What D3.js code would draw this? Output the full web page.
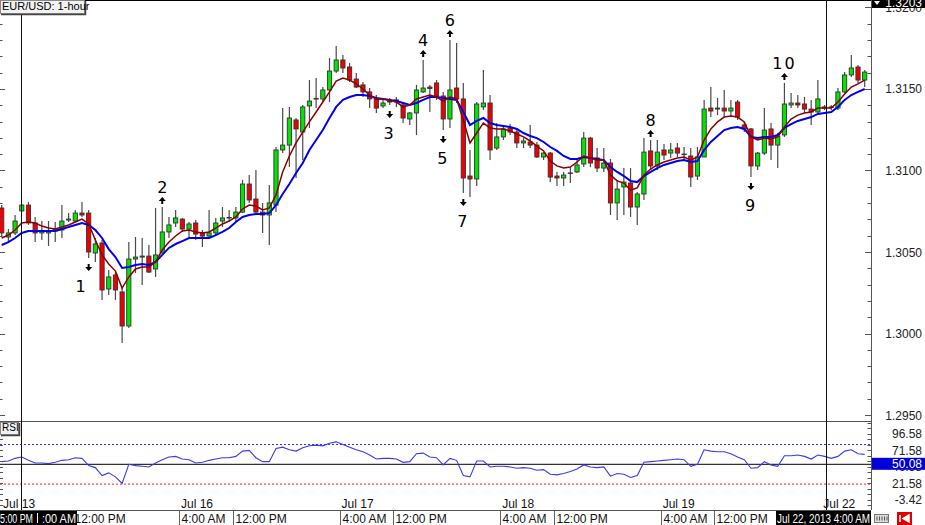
<!DOCTYPE html>
<html><head><meta charset="utf-8">
<script src="https://cdn.jsdelivr.net/npm/d3@7"></script>
<style>
html,body{margin:0;padding:0;background:#fff;}
svg{display:block;}
text{font-family:"Liberation Sans",Arial,sans-serif;}
</style></head><body>
<svg id="c" width="925" height="525"></svg>
<script>
// ---------- data (EUR/USD 1-hour) ----------
const opens = [1.30770,1.30592,1.30617,1.30752,1.30788,1.30678,1.30617,1.30617,1.30629,1.30635,
1.30696,1.30690,1.30739,1.30739,1.30494,1.30555,1.30273,1.30359,1.30255,1.30046,
1.30457,1.30469,1.30475,1.30396,1.30494,1.30623,1.30678,1.30702,1.30641,1.30678,
1.30617,1.30598,1.30617,1.30690,1.30709,1.30709,1.30745,1.30917,1.30825,1.30745,
1.30727,1.30788,1.31126,1.31156,1.31310,1.31236,1.31396,1.31439,1.31439,1.31494,
1.31610,1.31678,1.31635,1.31561,1.31525,1.31482,1.31439,1.31396,1.31426,1.31433,
1.31402,1.31316,1.31353,1.31482,1.31512,1.31537,1.31457,1.31316,1.31506,1.31439,
1.30966,1.30948,1.31390,1.31414,1.31138,1.31206,1.31261,1.31236,1.31169,1.31175,
1.31156,1.31083,1.31107,1.30966,1.30954,1.30985,1.30991,1.31040,1.31199,1.31077,
1.31015,1.31046,1.30801,1.30899,1.30923,1.30776,1.30856,1.31120,1.31028,1.31126,
1.31107,1.31138,1.31101,1.31089,1.30966,1.31083,1.31383,1.31377,1.31383,1.31365,
1.31420,1.31279,1.31255,1.31028,1.31107,1.31255,1.31156,1.31218,1.31402,1.31414,
1.31408,1.31377,1.31359,1.31383,1.31390,1.31383,1.31482,1.31586,1.31635,1.31555];
const highs = [1.30788,1.30641,1.30727,1.30794,1.30807,1.30715,1.30690,1.30690,1.30684,1.30788,
1.30739,1.30758,1.30807,1.30758,1.30586,1.30574,1.30390,1.30377,1.30291,1.30561,
1.30592,1.30586,1.30543,1.30770,1.30776,1.30715,1.30758,1.30709,1.30684,1.30696,
1.30635,1.30758,1.30709,1.30776,1.30758,1.30776,1.30942,1.30972,1.31003,1.30801,
1.30911,1.31144,1.31383,1.31390,1.31322,1.31402,1.31555,1.31567,1.31512,1.31690,
1.31764,1.31709,1.31660,1.31598,1.31543,1.31506,1.31463,1.31433,1.31445,1.31451,
1.31420,1.31359,1.31525,1.31678,1.31525,1.31555,1.31482,1.31801,1.31782,1.31537,
1.31126,1.31420,1.31617,1.31463,1.31291,1.31267,1.31285,1.31261,1.31199,1.31279,
1.31175,1.31113,1.31113,1.30991,1.30991,1.31021,1.31077,1.31236,1.31206,1.31138,
1.31138,1.31071,1.30942,1.31015,1.31015,1.30868,1.31199,1.31187,1.31187,1.31163,
1.31169,1.31169,1.31144,1.31138,1.31144,1.31433,1.31512,1.31445,1.31494,1.31433,
1.31433,1.31298,1.31261,1.31113,1.31383,1.31291,1.31230,1.31537,1.31475,1.31463,
1.31451,1.31433,1.31555,1.31402,1.31402,1.31506,1.31604,1.31709,1.31647,1.31617];
const lows = [1.30598,1.30561,1.30604,1.30745,1.30666,1.30561,1.30574,1.30537,1.30561,1.30586,
1.30684,1.30684,1.30715,1.30463,1.30439,1.30206,1.30236,1.30206,1.29942,1.30034,
1.30371,1.30298,1.30371,1.30347,1.30494,1.30586,1.30653,1.30623,1.30592,1.30574,
1.30531,1.30586,1.30604,1.30653,1.30684,1.30684,1.30739,1.30801,1.30739,1.30617,
1.30543,1.30745,1.31107,1.31021,1.30954,1.31064,1.31261,1.31383,1.31420,1.31420,
1.31598,1.31598,1.31543,1.31506,1.31451,1.31383,1.31353,1.31383,1.31402,1.31390,
1.31291,1.31279,1.31218,1.31475,1.31359,1.31433,1.31248,1.31261,1.31414,1.30862,
1.30837,1.30905,1.31371,1.31064,1.31126,1.31187,1.31218,1.31138,1.31138,1.31138,
1.31077,1.31064,1.30929,1.30905,1.30905,1.30923,1.30985,1.31021,1.31021,1.30991,
1.30991,1.30727,1.30696,1.30727,1.30715,1.30666,1.30819,1.31003,1.31003,1.31064,
1.31077,1.31083,1.31064,1.30899,1.30942,1.31083,1.31328,1.31340,1.31328,1.31328,
1.31310,1.31236,1.30960,1.31003,1.31095,1.31064,1.31015,1.31206,1.31383,1.31383,
1.31353,1.31279,1.31353,1.31371,1.31371,1.31371,1.31475,1.31574,1.31537,1.31512];
const closes = [1.30617,1.30617,1.30690,1.30788,1.30678,1.30617,1.30629,1.30629,1.30641,1.30690,
1.30702,1.30739,1.30727,1.30500,1.30549,1.30267,1.30347,1.30267,1.30046,1.30457,
1.30469,1.30475,1.30377,1.30482,1.30623,1.30666,1.30709,1.30641,1.30672,1.30610,
1.30598,1.30617,1.30678,1.30709,1.30712,1.30745,1.30917,1.30819,1.30745,1.30727,
1.30801,1.31126,1.31156,1.31322,1.31255,1.31390,1.31426,1.31442,1.31494,1.31610,
1.31678,1.31629,1.31555,1.31512,1.31482,1.31439,1.31383,1.31414,1.31420,1.31420,
1.31322,1.31353,1.31494,1.31506,1.31503,1.31457,1.31316,1.31494,1.31439,1.30954,
1.30948,1.31408,1.31414,1.31126,1.31206,1.31255,1.31236,1.31169,1.31181,1.31156,
1.31083,1.31107,1.30960,1.30954,1.30972,1.30985,1.31034,1.31199,1.31046,1.31015,
1.31046,1.30801,1.30886,1.30929,1.30776,1.30856,1.31113,1.31028,1.31113,1.31095,
1.31126,1.31107,1.31101,1.30960,1.31083,1.31377,1.31365,1.31383,1.31365,1.31383,
1.31328,1.31255,1.31028,1.31107,1.31248,1.31156,1.31212,1.31408,1.31414,1.31402,
1.31377,1.31359,1.31439,1.31390,1.31387,1.31482,1.31586,1.31629,1.31555,1.31604];
const emaFast = [1.30586,1.30604,1.30635,1.30678,1.30684,1.30678,1.30659,1.30647,1.30641,1.30653,
1.30666,1.30684,1.30702,1.30672,1.30574,1.30482,1.30426,1.30383,1.30279,1.30347,
1.30396,1.30408,1.30408,1.30439,1.30512,1.30561,1.30598,1.30629,1.30635,1.30623,
1.30617,1.30623,1.30647,1.30672,1.30690,1.30715,1.30764,1.30788,1.30782,1.30758,
1.30770,1.30850,1.30991,1.31089,1.31169,1.31236,1.31298,1.31359,1.31420,1.31482,
1.31549,1.31567,1.31555,1.31531,1.31500,1.31463,1.31439,1.31439,1.31433,1.31420,
1.31390,1.31402,1.31439,1.31451,1.31463,1.31451,1.31426,1.31451,1.31439,1.31310,
1.31169,1.31230,1.31291,1.31261,1.31255,1.31255,1.31242,1.31224,1.31206,1.31181,
1.31150,1.31120,1.31058,1.31028,1.31015,1.31021,1.31052,1.31089,1.31077,1.31064,
1.31064,1.30972,1.30936,1.30923,1.30880,1.30893,1.30972,1.31009,1.31034,1.31052,
1.31064,1.31077,1.31083,1.31064,1.31083,1.31187,1.31255,1.31298,1.31328,1.31334,
1.31328,1.31298,1.31206,1.31187,1.31199,1.31193,1.31206,1.31267,1.31316,1.31340,
1.31353,1.31359,1.31383,1.31383,1.31383,1.31420,1.31469,1.31512,1.31531,1.31555];
const emaSlow = [1.30543,1.30561,1.30586,1.30617,1.30629,1.30629,1.30629,1.30629,1.30629,1.30641,
1.30653,1.30666,1.30678,1.30666,1.30635,1.30586,1.30518,1.30469,1.30402,1.30408,
1.30420,1.30426,1.30420,1.30439,1.30482,1.30525,1.30549,1.30567,1.30586,1.30586,
1.30586,1.30586,1.30604,1.30623,1.30647,1.30684,1.30715,1.30727,1.30733,1.30733,
1.30739,1.30788,1.30856,1.30917,1.30985,1.31046,1.31126,1.31187,1.31248,1.31322,
1.31390,1.31433,1.31451,1.31463,1.31463,1.31457,1.31445,1.31439,1.31433,1.31426,
1.31414,1.31402,1.31414,1.31433,1.31451,1.31451,1.31445,1.31439,1.31433,1.31359,
1.31279,1.31304,1.31322,1.31291,1.31279,1.31273,1.31267,1.31255,1.31230,1.31212,
1.31199,1.31175,1.31144,1.31120,1.31089,1.31071,1.31071,1.31083,1.31077,1.31071,
1.31064,1.31021,1.30991,1.30966,1.30936,1.30929,1.30966,1.30991,1.31015,1.31034,
1.31046,1.31058,1.31064,1.31052,1.31058,1.31126,1.31175,1.31212,1.31248,1.31261,
1.31267,1.31255,1.31206,1.31199,1.31206,1.31206,1.31218,1.31261,1.31285,1.31304,
1.31316,1.31328,1.31347,1.31353,1.31359,1.31390,1.31433,1.31463,1.31482,1.31500];
const rsi = [54,55,59,61,56,52,52,51,53,56,57,60,59,48,45,33,37,31,21,50,
48,47,46,52,57,61,62,58,57,52,53,56,58,60,60,62,70,71,60,54,
54,74,76,72,70,75,78,79,78,82,84,80,76,72,69,64,58,59,59,58,
53,54,66,67,61,60,49,59,56,33,31,55,55,46,47,47,46,44,45,44,
41,42,35,34,36,39,43,49,46,45,46,32,36,35,30,33,53,54,55,56,
57,58,57,47,50,72,70,69,69,66,61,57,44,45,54,49,47,63,63,64,
62,58,64,62,59,62,70,72,66,65];
const priceTicks = [1.2950,1.3000,1.3050,1.3100,1.3150,1.3200];
const rsiTicks = [96.58,71.58,46.58,21.58,-3.42];
const rsiLevels = [80,50,20];
const dateLabels = ["Jul 13","Jul 16","Jul 17","Jul 18","Jul 19","Jul 22"];
const dateIdx = [0.4,27,51,75,99,123];
const timeLabels = ["12:00 PM","4:00 AM","12:00 PM","4:00 AM","12:00 PM","4:00 AM","12:00 PM","4:00 AM","12:00 PM"];
const timeIdx = [11,27,35,51,59,75,83,99,107];
const signalNum = ["1","2","3","4","5","6","7","8","9","10"];
const signalIdx = [13,24,58,63,66,67,69,97,112,117];
const signalDir = ["down","up","down","up","down","up","down","up","down","up"];
const markerIdx = [2.85,123.15];
const lastPrice = "1.3203";
const rsiCursor = "50.08";

// ---------- layout ----------
const svg = d3.select("#c");
const AX = 871;
const MT = 0, MB = 421;
const RT = 421, RB = 510;
const n = closes.length;
const x = d3.scaleLinear().domain([0, n-1]).range([1.7, 864.7]);
const y = d3.scaleLinear().domain([1.294632, 1.320460]).range([MB, MT]);
const yr = d3.scaleLinear().domain([-19.24, 115.6]).range([RB, RT]);
const half = (x(1)-x(0))/2;

const defs = svg.append("defs");
defs.append("clipPath").attr("id","cm").append("rect").attr("x",0).attr("y",MT).attr("width",AX).attr("height",MB-MT);
defs.append("clipPath").attr("id","cr").append("rect").attr("x",0).attr("y",RT).attr("width",AX).attr("height",RB-RT);

// ---------- main panel ----------
const gm = svg.append("g").attr("clip-path","url(#cm)");
const idx = d3.range(n);
gm.selectAll("line.wick").data(idx).join("line").attr("class","wick")
  .attr("x1",i=>x(i)).attr("x2",i=>x(i))
  .attr("y1",i=>y(highs[i])).attr("y2",i=>y(lows[i]))
  .attr("stroke","#4a4a4a").attr("stroke-width",1.2);
gm.selectAll("rect.body").data(idx).join("rect").attr("class","body")
  .attr("x",i=>x(i)-2.1).attr("width",4.2)
  .attr("y",i=>y(Math.max(opens[i],closes[i])))
  .attr("height",i=>Math.max(0.6, Math.abs(y(opens[i])-y(closes[i]))))
  .attr("fill",i=>closes[i]>=opens[i] ? "#00e600" : "#f00000")
  .attr("stroke","#333").attr("stroke-width",0.9);

const lineGen = arr => d3.line().x((d,i)=>x(i)).y(d=>y(d))(arr);
gm.append("path").attr("d",lineGen(emaSlow)).attr("fill","none").attr("stroke","#0000f0").attr("stroke-width",2);
gm.append("path").attr("d",lineGen(emaFast)).attr("fill","none").attr("stroke","#8b0000").attr("stroke-width",1.5);

// signals
signalIdx.forEach((k,j)=>{
  const cx = x(k);
  const up = signalDir[j]==="up";
  if (up) {
    const t = y(highs[k]) - 10;
    gm.append("path").attr("d",`M${cx},${t} L${cx-3.5},${t+4} L${cx-1},${t+4} L${cx-1},${t+7} L${cx+1},${t+7} L${cx+1},${t+4} L${cx+3.5},${t+4} Z`).attr("fill","#000");
    gm.append("text").attr("x",cx).attr("y",t-4).attr("text-anchor","middle")
      .attr("font-size",16).attr("letter-spacing", signalNum[j].length>1?2:0)
      .style("font-family","'DejaVu Sans',sans-serif").attr("fill","#000").text(signalNum[j]);
  } else {
    const t = y(lows[k]) + 13;
    gm.append("path").attr("d",`M${cx},${t} L${cx-3.5},${t-4} L${cx-1},${t-4} L${cx-1},${t-7} L${cx+1},${t-7} L${cx+1},${t-4} L${cx+3.5},${t-4} Z`).attr("fill","#000");
    gm.append("text").attr("x",cx + (k===13?-8:-1)).attr("y",t+21).attr("text-anchor","middle")
      .attr("font-size",16)
      .style("font-family","'DejaVu Sans',sans-serif").attr("fill","#000").text(signalNum[j]);
  }
});

// ---------- RSI panel ----------
const gr = svg.append("g").attr("clip-path","url(#cr)");
const lvlColor = ["#3030ff","#000","#ff2020"];
rsiLevels.forEach((v,j)=>{
  gr.append("line").attr("x1",0).attr("x2",AX).attr("y1",yr(v)).attr("y2",yr(v))
    .attr("stroke",lvlColor[j]).attr("stroke-width",1)
    .attr("stroke-dasharray", j===1 ? null : "2,2");
});
gr.append("path").attr("d", d3.line().x((d,i)=>x(i)).y(d=>yr(d))(rsi))
  .attr("fill","none").attr("stroke","#3a3af0").attr("stroke-width",1.1);

// ---------- frames ----------
svg.append("line").attr("x1",0).attr("x2",AX).attr("y1",0.5).attr("y2",0.5).attr("stroke","#000");
svg.append("line").attr("x1",0).attr("x2",AX).attr("y1",MB+0.5).attr("y2",MB+0.5).attr("stroke","#555");
svg.append("line").attr("x1",0).attr("x2",AX).attr("y1",RB+0.5).attr("y2",RB+0.5).attr("stroke","#555");
svg.append("line").attr("x1",AX+0.5).attr("x2",AX+0.5).attr("y1",0).attr("y2",RB).attr("stroke","#555");

markerIdx.forEach(k=>{
  svg.append("line").attr("x1",Math.round(x(k))+0.5).attr("x2",Math.round(x(k))+0.5)
    .attr("y1",0).attr("y2",RB).attr("stroke","#111").attr("stroke-width",1);
});

// price axis ticks
const minor = d3.range(1.2950, 1.3205, 0.001).map(v=>+v.toFixed(4));
minor.forEach(v=>{
  const yy = Math.round(y(v))+0.5;
  if (yy < 1 || yy > MB) return;
  const major = Math.abs((v*1000)%5) < 1e-6 || Math.abs((v*1000)%5-5) < 1e-6;
  const len = major ? 6 : 3.5;
  svg.append("line").attr("x1",AX-len).attr("x2",AX).attr("y1",yy).attr("y2",yy).attr("stroke","#555");
  svg.append("line").attr("x1",0).attr("x2",len-1).attr("y1",yy).attr("y2",yy).attr("stroke","#555");
});
priceTicks.forEach(v=>{
  svg.append("text").attr("x",922).attr("y",y(v)+4.5).attr("text-anchor","end")
    .attr("font-size",12).attr("fill","#222").text(v.toFixed(4));
});

// RSI axis ticks
d3.range(-2, 17).map(j=>96.58 + 25 - j*25/3).forEach(v=>{
  const yy = Math.round(yr(v))+0.5;
  if (yy < RT+2 || yy > RB-1) return;
  svg.append("line").attr("x1",AX-3.5).attr("x2",AX).attr("y1",yy).attr("y2",yy).attr("stroke","#555");
  svg.append("line").attr("x1",0).attr("x2",3).attr("y1",yy).attr("y2",yy).attr("stroke","#555");
});
rsiTicks.forEach(v=>{
  svg.append("text").attr("x",922).attr("y",yr(v)+4.5).attr("text-anchor","end")
    .attr("font-size",12).attr("fill","#222").text(v.toFixed(2));
});
svg.append("rect").attr("x",872).attr("y",yr(50)-6.5).attr("width",53).attr("height",12).attr("fill","#0000d8");
svg.append("text").attr("x",922).attr("y",yr(50)+4).attr("text-anchor","end")
  .attr("font-size",12).attr("fill","#fff").text(rsiCursor);

// last price box
svg.append("rect").attr("x",872).attr("y",-4).attr("width",53).attr("height",12).attr("fill","#000");
svg.append("text").attr("x",922).attr("y",6.5).attr("text-anchor","end")
  .attr("font-size",12).attr("fill","#fff").text(lastPrice);
svg.append("path").attr("d","M874,1 L880,1 L877,5 Z").attr("fill","#fff");

// ---------- time axis ----------
dateLabels.forEach((t,j)=>{
  svg.append("text").attr("x",x(dateIdx[j])-1.3).attr("y",508).attr("font-size",12).attr("fill","#111").text(t);
});
timeLabels.forEach((t,j)=>{
  const sx = Math.round(x(timeIdx[j])-half)+0.5;
  svg.append("line").attr("x1",sx).attr("x2",sx).attr("y1",511).attr("y2",525).attr("stroke","#666");
  svg.append("text").attr("x",sx+2).attr("y",522.5).attr("font-size",12).attr("fill","#111").text(t);
});
svg.append("rect").attr("x",0).attr("y",511).attr("width",77).attr("height",14).attr("fill","#000");
svg.append("text").attr("x",0).attr("y",522.5).attr("font-size",12).attr("fill","#fff")
  .attr("textLength",33).attr("lengthAdjust","spacingAndGlyphs").text("5:00 PM");
svg.append("line").attr("x1",37.5).attr("x2",37.5).attr("y1",513).attr("y2",523).attr("stroke","#fff");
svg.append("text").attr("x",42).attr("y",522.5).attr("font-size",12).attr("fill","#fff")
  .attr("textLength",34).attr("lengthAdjust","spacingAndGlyphs").text(":00 AM");
svg.append("rect").attr("x",776).attr("y",511).attr("width",95).attr("height",14).attr("fill","#000");
svg.append("text").attr("x",777).attr("y",522.5).attr("font-size",12).attr("fill","#fff")
  .attr("textLength",93).attr("lengthAdjust","spacingAndGlyphs").text("Jul 22, 2013 4:00 AM");
// small icons
svg.append("rect").attr("x",874.5).attr("y",514.5).attr("width",14).attr("height",8).attr("fill","#ddd").attr("stroke","#777");
svg.append("path").attr("d","M877,516.5 V520.5 M879.5,516.5 V520.5 M882,516.5 V520.5 M884.5,516.5 V520.5 M887,516.5 V520.5").attr("stroke","#555").attr("stroke-width",1);
svg.append("rect").attr("x",897).attr("y",512).attr("width",15).attr("height",13).attr("fill","#e00000");
svg.append("path").attr("d","M900,515 L900,522 M909,515 L903,518.5 L909,522 Z").attr("stroke","#fff").attr("stroke-width",1.5).attr("fill","#fff");

// ---------- label boxes ----------
function tagBox(x0,y0,w,h,label,fs){
  svg.append("rect").attr("x",x0+0.5).attr("y",y0+0.5).attr("width",w).attr("height",h).attr("fill","#f2f2f2").attr("stroke","#888");
  svg.append("path").attr("d",`M${x0+1},${y0+h+1.5} L${x0+w+1.5},${y0+h+1.5} L${x0+w+1.5},${y0+1}`).attr("fill","none").attr("stroke","#444").attr("stroke-width",1.5);
  svg.append("text").attr("x",x0+2).attr("y",y0+h-3).attr("font-size",fs).attr("fill","#000").text(label);
}
tagBox(0,0,84,13,"EUR/USD: 1-hour",11);
tagBox(0,RT+1,18,12,"RSI",10);
</script>
</body></html>
